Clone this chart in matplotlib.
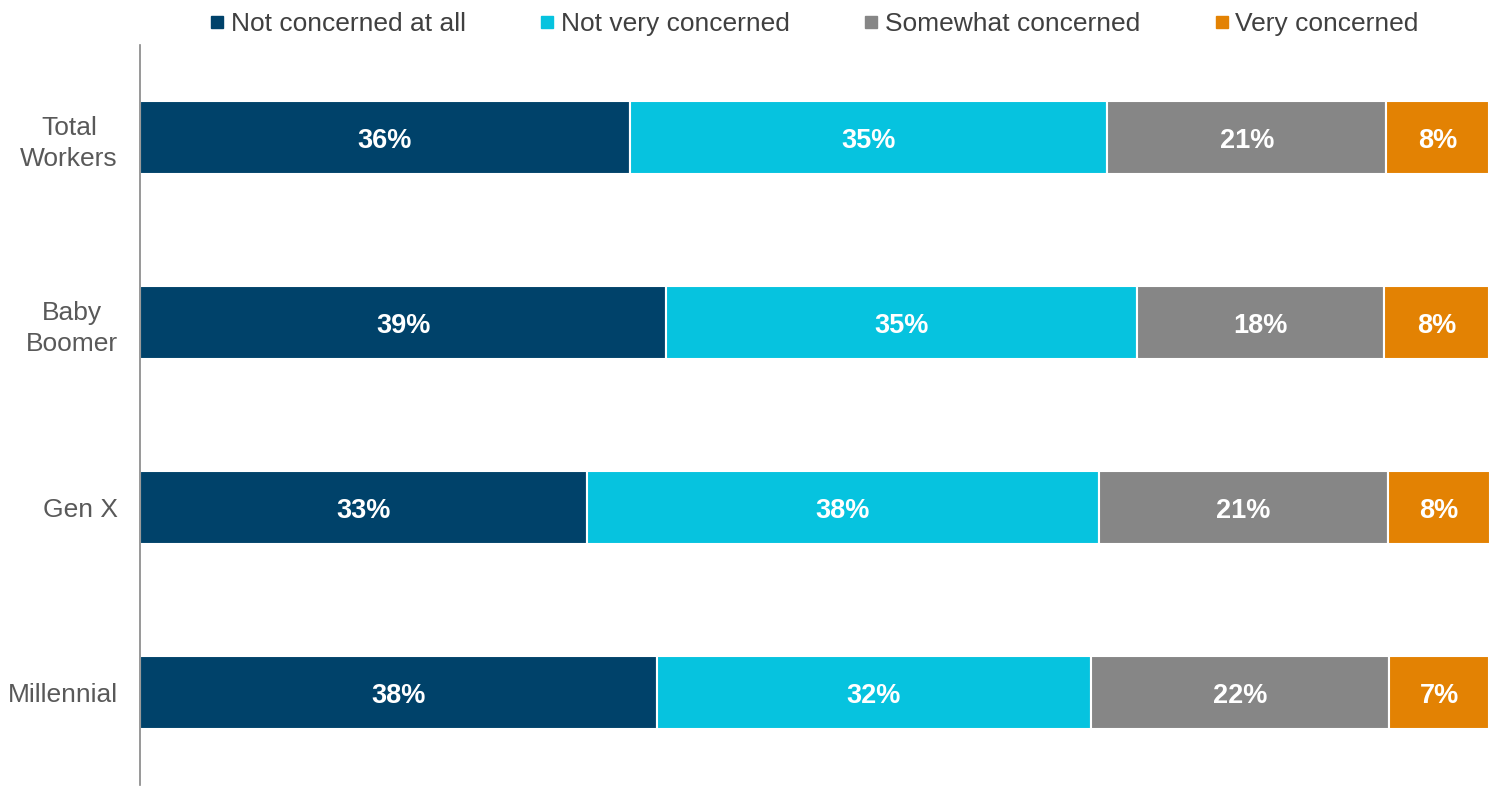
import matplotlib
matplotlib.use("Agg")
import matplotlib.pyplot as plt
from matplotlib.lines import Line2D
import numpy as np

plt.rcParams['font.family'] = ['Liberation Sans', 'DejaVu Sans']

categories = ["Total\nWorkers", "Baby\nBoomer", "Gen X", "Millennial"]
series_names = ["Not concerned at all", "Not very concerned", "Somewhat concerned", "Very concerned"]
not_concerned_at_all = [36.3, 39.0, 33.1, 38.3]
not_very_concerned = [35.4, 34.9, 38.0, 32.2]
somewhat_concerned = [20.7, 18.3, 21.4, 22.1]
very_concerned = [7.6, 7.8, 7.6, 7.4]
colors = ["#00426A", "#06C3DF", "#868686", "#E38203"]

series = [not_concerned_at_all, not_very_concerned, somewhat_concerned, very_concerned]

fig = plt.figure(figsize=(14.89, 7.86), dpi=100)
ax = fig.add_axes([140/1489, 1/786, 1 - 140/1489, 740/786])

y = np.arange(len(categories))
left = np.zeros(len(categories))
for vals, col, name in zip(series, colors, series_names):
    vals = np.array(vals)
    ax.barh(y, vals, left=left, height=0.39, color=col, edgecolor='white',
            linewidth=1.5, label=name)
    for yi, l, v in zip(y, left, vals):
        ax.text(l + v / 2, yi + 0.02, f"{round(v):.0f}%", ha='center', va='center',
                color='white', fontsize=19.5, fontweight='bold')
    left += vals

ax.set_xlim(0, 100)
ax.set_ylim(3.5, -0.5)
ax.set_yticks(y)
ax.set_yticklabels(categories, fontsize=19, color='#595959', linespacing=1.35,
                   multialignment='center')
ax.set_xticks([])
ax.tick_params(axis='y', length=0, pad=16)
for s in ['top', 'right', 'bottom']:
    ax.spines[s].set_visible(False)
ax.spines['left'].set_color('#868686')
ax.spines['left'].set_linewidth(1.2)

handles = [Line2D([0], [0], marker='s', linestyle='none', markersize=8,
                  markerfacecolor=c, markeredgecolor=c) for c in colors]
fig.legend(handles, series_names, loc='center', bbox_to_anchor=(814.5/1489, 1 - 24/786),
           ncol=4, frameon=False, fontsize=19, handlelength=0.5, handletextpad=0.25,
           columnspacing=2.85, labelcolor='#404040')

fig.savefig("out.png", dpi=100)
